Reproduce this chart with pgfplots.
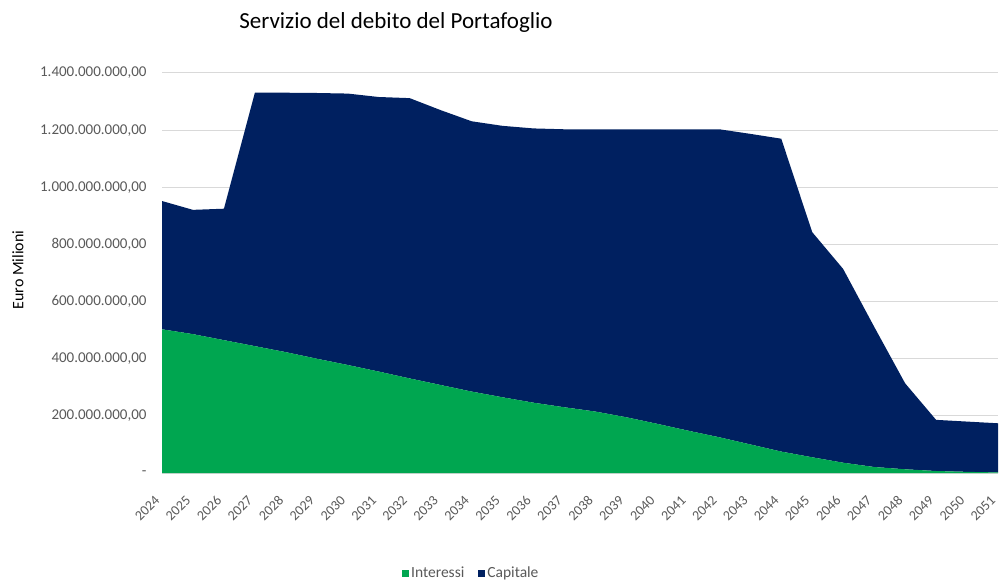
\documentclass[border=0pt]{standalone}
\usepackage{pgfplots}
\pgfplotsset{compat=1.18}
\usepackage{fontspec}
\setmainfont{Carlito}
\definecolor{interessi}{HTML}{00A650}
\definecolor{capitale}{HTML}{002060}
\definecolor{ticktxt}{HTML}{595959}
\definecolor{gridc}{HTML}{D9D9D9}

\begin{document}
\begin{tikzpicture}[x=1pt,y=1pt]
\path[use as bounding box] (0,0) rectangle (1003,582);
\begin{axis}[
    at={(162pt,109pt)}, anchor=south west,
    scale only axis,
    width=836pt, height=400pt,
    xmin=2024, xmax=2051,
    ymin=0, ymax=1400,
    stack plots=y,
    axis lines=left,
    y axis line style={draw=none},
    x axis line style={draw=gridc, line width=1pt, -},
    major tick length=0pt,
    ymajorgrids=true,
    grid style={gridc, line width=1pt},
    xtick={2024,...,2051},
    ytick={0,200,...,1400},
    yticklabels={-,{200.000.000,00},{400.000.000,00},{600.000.000,00},{800.000.000,00},{1.000.000.000,00},{1.200.000.000,00},{1.400.000.000,00}},
    /pgf/number format/1000 sep={},
    /pgf/number format/assume math mode=true,
    x tick label style={font=\fontsize{14}{16}\selectfont, text=ticktxt,
        xshift=-4pt, yshift=-24pt, rotate=45, anchor=east, inner sep=1pt},
    y tick label style={font=\fontsize{15}{18}\selectfont, text=ticktxt, anchor=east},
    yticklabel shift=12pt,
    xticklabel shift=0pt,
    legend style={at={(0.370,-0.25)}, anchor=center, legend columns=2, draw=none,
        font=\fontsize{15.5}{18}\selectfont, text=ticktxt,
        /tikz/every even column/.append style={column sep=12pt}},
    legend image code/.code={\fill[#1] (0pt,-3.5pt) rectangle (7pt,3.5pt);},
]
\addplot[fill=interessi, draw=none] coordinates {
    (2024,503) (2025,486) (2026,465) (2027,444) (2028,423) (2029,400) (2030,378)
    (2031,355) (2032,331) (2033,308) (2034,285) (2035,265) (2036,246) (2037,230)
    (2038,215) (2039,195) (2040,172) (2041,148) (2042,125) (2043,100) (2044,75)
    (2045,55) (2046,36) (2047,21) (2048,13) (2049,7) (2050,4) (2051,2)
} \closedcycle;
\addlegendentry{Interessi}
\addplot[fill=capitale, draw=none] coordinates {
    (2024,449) (2025,435) (2026,460) (2027,887) (2028,908) (2029,930) (2030,950)
    (2031,961) (2032,981) (2033,962) (2034,946) (2035,950) (2036,960) (2037,973)
    (2038,988) (2039,1008) (2040,1031) (2041,1055) (2042,1078) (2043,1087) (2044,1095)
    (2045,788) (2046,678) (2047,491) (2048,301) (2049,179) (2050,176) (2051,172)
} \closedcycle;
\addlegendentry{Capitale}
\end{axis}
\node[font=\fontsize{23}{27}\selectfont, text=black] at (396,560) {Servizio del debito del Portafoglio};
\node[font=\fontsize{16}{19}\selectfont, text=black, rotate=90] at (18,312) {Euro Milioni};
\end{tikzpicture}
\end{document}
